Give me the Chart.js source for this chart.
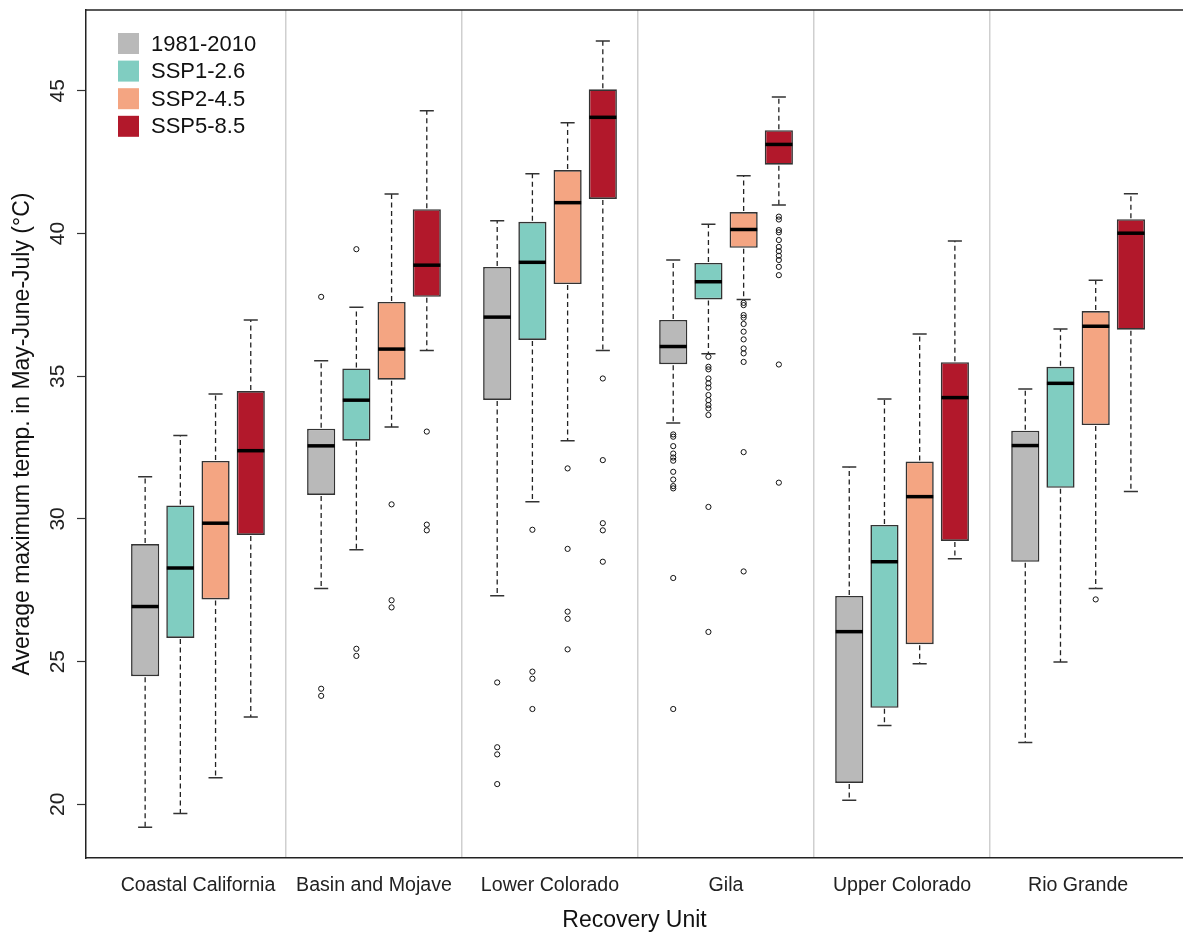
<!DOCTYPE html>
<html>
<head>
<meta charset="utf-8">
<script src="https://cdn.jsdelivr.net/npm/chart.js@4.4.1/dist/chart.umd.min.js"></script>
<style>
  html, body { margin: 0; padding: 0; background: #ffffff; }
  canvas { display: block; }
</style>
</head>
<body>
<canvas id="c" width="1183" height="934"></canvas>
<script>
// ---------------- DATA ----------------
const categories = ["Coastal California", "Basin and Mojave", "Lower Colorado", "Gila", "Upper Colorado", "Rio Grande"];
const seriesNames = ["1981-2010", "SSP1-2.6", "SSP2-4.5", "SSP5-8.5"];
const seriesColors = ["#b9b9b9", "#80cdc1", "#f4a582", "#b2182b"];
const yTickValues = [20, 25, 30, 35, 40, 45];

// five-number summaries per recovery unit: [lower whisker, Q1, median, Q3, upper whisker]
const stats1981 = [
  [19.20, 24.49, 26.93, 29.12, 31.48],
  [27.56, 30.84, 32.56, 33.16, 35.54],
  [27.31, 34.17, 37.07, 38.83, 40.45],
  [33.36, 35.42, 36.04, 36.97, 39.07],
  [20.14, 20.75, 26.05, 27.30, 31.82],
  [22.17, 28.50, 32.57, 33.09, 34.55]
];
const statsSSP126 = [
  [19.68, 25.83, 28.28, 30.47, 32.92],
  [28.92, 32.74, 34.16, 35.27, 37.42],
  [30.60, 36.27, 38.99, 40.41, 42.09],
  [35.79, 37.69, 38.31, 38.97, 40.32],
  [22.76, 23.38, 28.50, 29.79, 34.20],
  [24.99, 31.09, 34.75, 35.33, 36.65]
];
const statsSSP245 = [
  [20.93, 27.18, 29.85, 32.03, 34.38],
  [33.22, 34.88, 35.95, 37.60, 41.38],
  [32.74, 38.23, 41.08, 42.22, 43.88],
  [37.69, 39.50, 40.14, 40.75, 42.02],
  [24.93, 25.61, 30.78, 32.01, 36.48],
  [27.56, 33.29, 36.75, 37.28, 38.36]
];
const statsSSP585 = [
  [23.06, 29.44, 32.39, 34.48, 36.97],
  [35.90, 37.78, 38.89, 40.85, 44.30],
  [35.90, 41.21, 44.07, 45.05, 46.74],
  [41.00, 42.41, 43.12, 43.62, 44.78],
  [28.60, 29.23, 34.25, 35.49, 39.74],
  [30.96, 36.63, 40.01, 40.50, 41.39]
];

// outliers per recovery unit
const out1981 = [
  [],
  [37.78, 24.05, 23.80],
  [24.27, 22.00, 21.75, 20.71],
  [32.96, 32.88, 32.55, 32.29, 32.15, 32.04, 31.65, 31.38, 31.15, 31.07, 27.93, 23.34],
  [],
  []
];
const outSSP126 = [
  [],
  [39.45, 25.45, 25.20],
  [29.62, 24.65, 24.40, 23.34],
  [35.68, 35.33, 35.24, 34.92, 34.75, 34.60, 34.34, 34.16, 33.99, 33.87, 33.64, 30.42, 26.04],
  [],
  []
];
const outSSP245 = [
  [],
  [30.51, 27.15, 26.90],
  [31.77, 28.95, 26.75, 26.50, 25.43],
  [37.57, 37.49, 37.14, 37.05, 36.83, 36.56, 36.29, 35.97, 35.80, 35.50, 32.34, 28.16],
  [],
  [27.18]
];
const outSSP585 = [
  [],
  [33.06, 29.80, 29.60],
  [34.92, 32.06, 29.85, 29.60, 28.50],
  [40.59, 40.49, 40.12, 40.04, 39.77, 39.53, 39.38, 39.22, 39.07, 38.83, 38.54, 35.41, 31.27],
  [],
  []
];

const allStats = [stats1981, statsSSP126, statsSSP245, statsSSP585];
const allOutliers = [out1981, outSSP126, outSSP245, outSSP585];

// ---------------- BUILD ----------------
const FONT = "'Liberation Sans', Arial, 'DejaVu Sans', sans-serif";
const GROUP = categories.length;
const SERIES = seriesNames.length;
const posOf = (g, s) => g * (SERIES + 1) + s + 1;   // R-style box positions, gap between groups

const datasets = [];
allStats.forEach((st, s) => {
  datasets.push({
    type: 'bar',
    label: seriesNames[s],
    data: st.map((r, g) => ({ x: posOf(g, s), y: [r[1], r[3]], stats: r })),
    backgroundColor: seriesColors[s],
    borderColor: '#333333',
    borderWidth: 1.6,
    borderSkipped: false,
    grouped: false,
    categoryPercentage: 1,
    barPercentage: 0.8,
    order: 2
  });
});
allOutliers.forEach((outs, s) => {
  const pts = [];
  outs.forEach((arr, g) => arr.forEach(v => pts.push({ x: posOf(g, s), y: v })));
  datasets.push({
    type: 'scatter',
    label: seriesNames[s] + ' outliers',
    isOutlier: true,
    data: pts,
    pointStyle: 'circle',
    pointRadius: 2.6,
    pointBackgroundColor: 'rgba(0,0,0,0)',
    pointBorderColor: '#111',
    pointBorderWidth: 1,
    order: 1
  });
});

const groupTicks = [];
for (let g = 0; g < GROUP; g++) {
  groupTicks.push(g * (SERIES + 1) + (SERIES + 1) / 2);
  if (g < GROUP - 1) groupTicks.push((g + 1) * (SERIES + 1));
}

const boxPlugin = {
  id: 'boxWhiskers',
  afterDatasetsDraw(chart) {
    const ctx = chart.ctx;
    const yS = chart.scales.y;
    chart.data.datasets.forEach((ds, di) => {
      if (ds.type !== 'bar') return;
      const meta = chart.getDatasetMeta(di);
      meta.data.forEach((bar, i) => {
        const st = ds.data[i].stats;
        const xc = bar.x;
        const w = bar.width;
        const yLo = yS.getPixelForValue(st[0]);
        const yQ1 = yS.getPixelForValue(st[1]);
        const yMed = yS.getPixelForValue(st[2]);
        const yQ3 = yS.getPixelForValue(st[3]);
        const yHi = yS.getPixelForValue(st[4]);
        ctx.save();
        // whiskers (dashed)
        ctx.strokeStyle = '#222';
        ctx.lineWidth = 1.3;
        ctx.setLineDash([5, 3.5]);
        ctx.beginPath();
        ctx.moveTo(xc, yQ3 - 1); ctx.lineTo(xc, yHi);
        ctx.moveTo(xc, yQ1 + 1); ctx.lineTo(xc, yLo);
        ctx.stroke();
        // caps
        ctx.setLineDash([]);
        ctx.strokeStyle = '#333';
        ctx.lineWidth = 1.5;
        ctx.beginPath();
        ctx.moveTo(xc - w / 4, yHi); ctx.lineTo(xc + w / 4, yHi);
        ctx.moveTo(xc - w / 4, yLo); ctx.lineTo(xc + w / 4, yLo);
        ctx.stroke();
        // median
        ctx.strokeStyle = '#000';
        ctx.lineWidth = 3.5;
        ctx.beginPath();
        ctx.moveTo(xc - w / 2 + 0.5, yMed); ctx.lineTo(xc + w / 2 - 0.5, yMed);
        ctx.stroke();
        ctx.restore();
      });
    });
  },
  afterDraw(chart) {
    const ctx = chart.ctx;
    const a = chart.chartArea;
    const yS = chart.scales.y;
    ctx.save();
    // top frame line
    ctx.strokeStyle = '#222';
    ctx.lineWidth = 1.5;
    ctx.beginPath();
    ctx.moveTo(a.left - 0.75, a.top); ctx.lineTo(a.right, a.top);
    ctx.stroke();
    // rotated y tick labels
    ctx.fillStyle = '#222';
    ctx.font = '21px ' + FONT;
    ctx.textAlign = 'center';
    ctx.textBaseline = 'middle';
    yS.ticks.forEach(t => {
      const py = yS.getPixelForValue(t.value);
      ctx.save();
      ctx.translate(a.left - 28, py);
      ctx.rotate(-Math.PI / 2);
      ctx.fillText(String(t.value), 0, 0);
      ctx.restore();
    });
    // legend
    ctx.font = '22px ' + FONT;
    ctx.textAlign = 'left';
    ctx.textBaseline = 'middle';
    const bars = chart.data.datasets.filter(d => d.type === 'bar');
    bars.forEach((d, i) => {
      const cy = a.top + 33.5 + i * 27.6;
      ctx.fillStyle = d.backgroundColor;
      ctx.fillRect(a.left + 32, cy - 10.5, 21, 21);
      ctx.fillStyle = '#111';
      ctx.fillText(d.label, a.left + 65, cy + 1);
    });
    ctx.restore();
  }
};

new Chart(document.getElementById('c'), {
  data: { datasets },
  options: {
    responsive: false,
    animation: false,
    devicePixelRatio: 1,
    layout: { autoPadding: false, padding: { top: 10, left: 0, right: 0, bottom: 0 } },
    plugins: { legend: { display: false }, tooltip: { enabled: false } },
    scales: {
      x: {
        type: 'linear',
        offset: false,
        min: -0.68,
        max: 30.48,
        afterBuildTicks: (scale) => { scale.ticks = groupTicks.map(v => ({ value: v })); },
        afterFit: (scale) => { scale.height = 76; scale.paddingRight = 0; scale.paddingLeft = 0; },
        ticks: {
          autoSkip: false,
          maxRotation: 0,
          minRotation: 0,
          padding: 16,
          color: '#222',
          font: { family: FONT, size: 19.6 },
          callback: (v) => (v % (SERIES + 1) === 0) ? '' : categories[Math.round((v - (SERIES + 1) / 2) / (SERIES + 1))]
        },
        grid: {
          offset: false,
          drawTicks: false,
          lineWidth: 1.5,
          color: (c) => (c.tick && c.tick.value % (SERIES + 1) === 0) ? '#cfcfcf' : 'rgba(0,0,0,0)'
        },
        border: { display: true, color: '#222', width: 1.5 },
        title: {
          display: true,
          text: 'Recovery Unit',
          color: '#111',
          font: { family: FONT, size: 23 },
          padding: { top: 0, bottom: 0 }
        }
      },
      y: {
        type: 'linear',
        min: 18.12,
        max: 47.83,
        afterBuildTicks: (scale) => { scale.ticks = yTickValues.map(v => ({ value: v })); },
        afterFit: (scale) => { scale.width = 86; },
        ticks: { display: false, includeBounds: false },
        grid: {
          drawOnChartArea: false,
          drawTicks: true,
          tickLength: 9,
          tickColor: '#333',
          tickWidth: 1.2
        },
        border: { display: true, color: '#222', width: 1.5 },
        title: {
          display: true,
          text: 'Average maximum temp. in May-June-July (°C)',
          color: '#111',
          font: { family: FONT, size: 23 },
          padding: { top: 9, bottom: 0 }
        }
      }
    }
  },
  plugins: [boxPlugin]
});
</script>
</body>
</html>
